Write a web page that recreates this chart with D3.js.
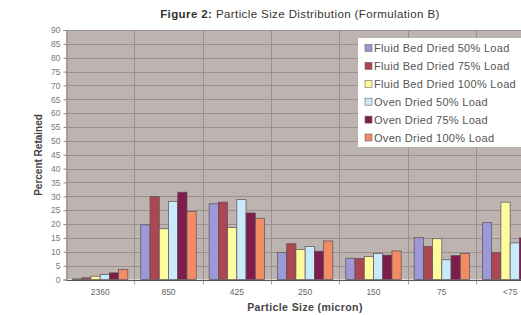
<!DOCTYPE html>
<html>
<head>
<meta charset="utf-8">
<script src="https://cdn.jsdelivr.net/npm/d3@7"></script>
<style>
    body { margin: 0; background: #fff; overflow: hidden; }
    svg { display: block; font-family: "Liberation Sans", Arial, sans-serif; }
</style>
</head>
<body>
<div id="graph"></div>
<script>
var categories = ['2360', '850', '425', '250', '150', '75', '<75'];
var seriesNames = [
    'Fluid Bed Dried 50% Load',
    'Fluid Bed Dried 75% Load',
    'Fluid Bed Dried 100% Load',
    'Oven Dried 50% Load',
    'Oven Dried 75% Load',
    'Oven Dried 100% Load'
];
var fluid50 = [0.2, 19.7, 27.3, 9.7, 7.7, 15.1, 20.5];
var fluid75 = [0.6, 29.9, 27.9, 12.9, 7.6, 11.9, 9.7];
var fluid100 = [1.2, 18.3, 18.7, 10.8, 8.3, 14.7, 27.9];
var oven50 = [1.8, 28.2, 28.8, 11.9, 9.4, 7.1, 13.2];
var oven75 = [2.4, 31.5, 24.0, 10.2, 8.8, 8.6, 15.0];
var oven100 = [3.6, 24.6, 22.1, 13.9, 10.3, 9.4, 11.0];
var yTicks = d3.range(0, 91, 5);

var colors = ['#9c99d6', '#ab4752', '#fdfb9c', '#c9eafa', '#7e1d4c', '#f28c64'];

var allSeries = [fluid50, fluid75, fluid100, oven50, oven75, oven100];

var width = 521,
    height = 315;
var plotLeft = 66,
    plotTop = 30,
    plotBottom = 279.5,
    plotRight = 66 + 7 * 68.33;

var svg = d3.select('#graph')
    .append('svg')
        .attr('width', width)
        .attr('height', height);

var x = d3.scaleBand()
    .domain(categories)
    .range([plotLeft, plotRight]);

var xInner = d3.scaleBand()
    .domain(d3.range(seriesNames.length))
    .range([0, x.bandwidth()])
    .paddingInner(0)
    .paddingOuter(0.7);

var y = d3.scaleLinear()
    .domain([0, 90])
    .range([plotBottom, plotTop]);

// plot background
svg.append('rect')
    .attr('x', plotLeft)
    .attr('y', plotTop)
    .attr('width', plotRight - plotLeft)
    .attr('height', plotBottom - plotTop)
    .style('fill', '#bdb4b2');

// horizontal grid
svg.append('g')
    .selectAll('line')
    .data(yTicks.slice(1)).enter().append('line')
    .attr('x1', plotLeft)
    .attr('x2', plotRight)
    .attr('y1', function(d) { return Math.round(y(d)) + 0.5; })
    .attr('y2', function(d) { return Math.round(y(d)) + 0.5; })
    .style('stroke', '#8f8786')
    .style('stroke-width', 0.8);

// vertical grid at category boundaries
svg.append('g')
    .selectAll('line')
    .data(categories.slice(1)).enter().append('line')
    .attr('x1', function(d) { return Math.round(x(d)) + 0.5; })
    .attr('x2', function(d) { return Math.round(x(d)) + 0.5; })
    .attr('y1', plotTop)
    .attr('y2', plotBottom + 5)
    .style('stroke', '#8f8786')
    .style('stroke-width', 0.8);

// bars
var groups = svg.append('g')
    .selectAll('g')
    .data(categories).enter().append('g')
    .attr('transform', function(d) { return 'translate(' + x(d) + ',0)'; });

groups.selectAll('rect')
    .data(function(d, i) {
        return allSeries.map(function(s, j) { return { s: j, v: s[i] }; });
    }).enter().append('rect')
    .attr('x', function(d) { return xInner(d.s); })
    .attr('y', function(d) { return y(d.v); })
    .attr('width', xInner.bandwidth())
    .attr('height', function(d) { return plotBottom - y(d.v); })
    .style('fill', function(d) { return colors[d.s]; })
    .style('stroke', '#5a4f55')
    .style('stroke-width', 0.7);

// y axis
var yAxis = svg.append('g')
    .attr('transform', 'translate(' + (plotLeft + 0.5) + ',0)')
    .call(d3.axisLeft(y).tickValues(yTicks).tickSize(3).tickPadding(3));
yAxis.select('.domain').style('stroke', '#8a8a8a');
yAxis.selectAll('.tick line').style('stroke', '#8a8a8a');
yAxis.selectAll('text')
    .style('font-size', '8.5px')
    .style('fill', '#777');

// x axis
var xAxis = svg.append('g')
    .attr('transform', 'translate(0,' + (plotBottom + 0.5) + ')')
    .call(d3.axisBottom(x).tickSize(0).tickPadding(9));
xAxis.select('.domain').style('stroke', '#555');
xAxis.selectAll('text')
    .style('font-size', '8.5px')
    .style('fill', '#666');

// titles
var title = svg.append('text')
    .attr('x', 300)
    .attr('y', 18)
    .attr('text-anchor', 'middle')
    .style('font-size', '11.5px')
    .style('letter-spacing', '0.4px')
    .style('fill', '#333');
title.append('tspan').style('font-weight', 'bold').text('Figure 2:');
title.append('tspan').text(' Particle Size Distribution (Formulation B)');

svg.append('text')
    .attr('x', 305)
    .attr('y', 311)
    .attr('text-anchor', 'middle')
    .style('font-size', '10.5px')
    .style('letter-spacing', '0.4px')
    .style('font-weight', 'bold')
    .style('fill', '#444')
    .text('Particle Size (micron)');

svg.append('text')
    .attr('transform', 'translate(42,155) rotate(-90)')
    .attr('text-anchor', 'middle')
    .style('font-size', '10px')
    .style('font-weight', 'bold')
    .style('fill', '#444')
    .text('Percent Retained');

// LEGEND -----------------------------------------------------------------------------
var legend = svg.append('g')
    .attr('transform', 'translate(358,38)');
legend.append('rect')
    .attr('width', 180)
    .attr('height', 109)
    .style('fill', '#fff');
var item = legend.selectAll('g.item')
    .data(seriesNames).enter().append('g')
    .attr('class', 'item')
    .attr('transform', function(d, i) { return 'translate(0,' + (10 + i * 17.9) + ')'; });
item.append('rect')
    .attr('x', 7)
    .attr('y', -3.5)
    .attr('width', 7)
    .attr('height', 7)
    .style('fill', function(d, i) { return colors[i]; })
    .style('stroke', '#666')
    .style('stroke-width', 0.6);
item.append('text')
    .attr('x', 16)
    .attr('y', 4)
    .style('font-size', '11px')
    .style('letter-spacing', '0.3px')
    .style('fill', '#555')
    .text(function(d) { return d; });
</script>
</body>
</html>
